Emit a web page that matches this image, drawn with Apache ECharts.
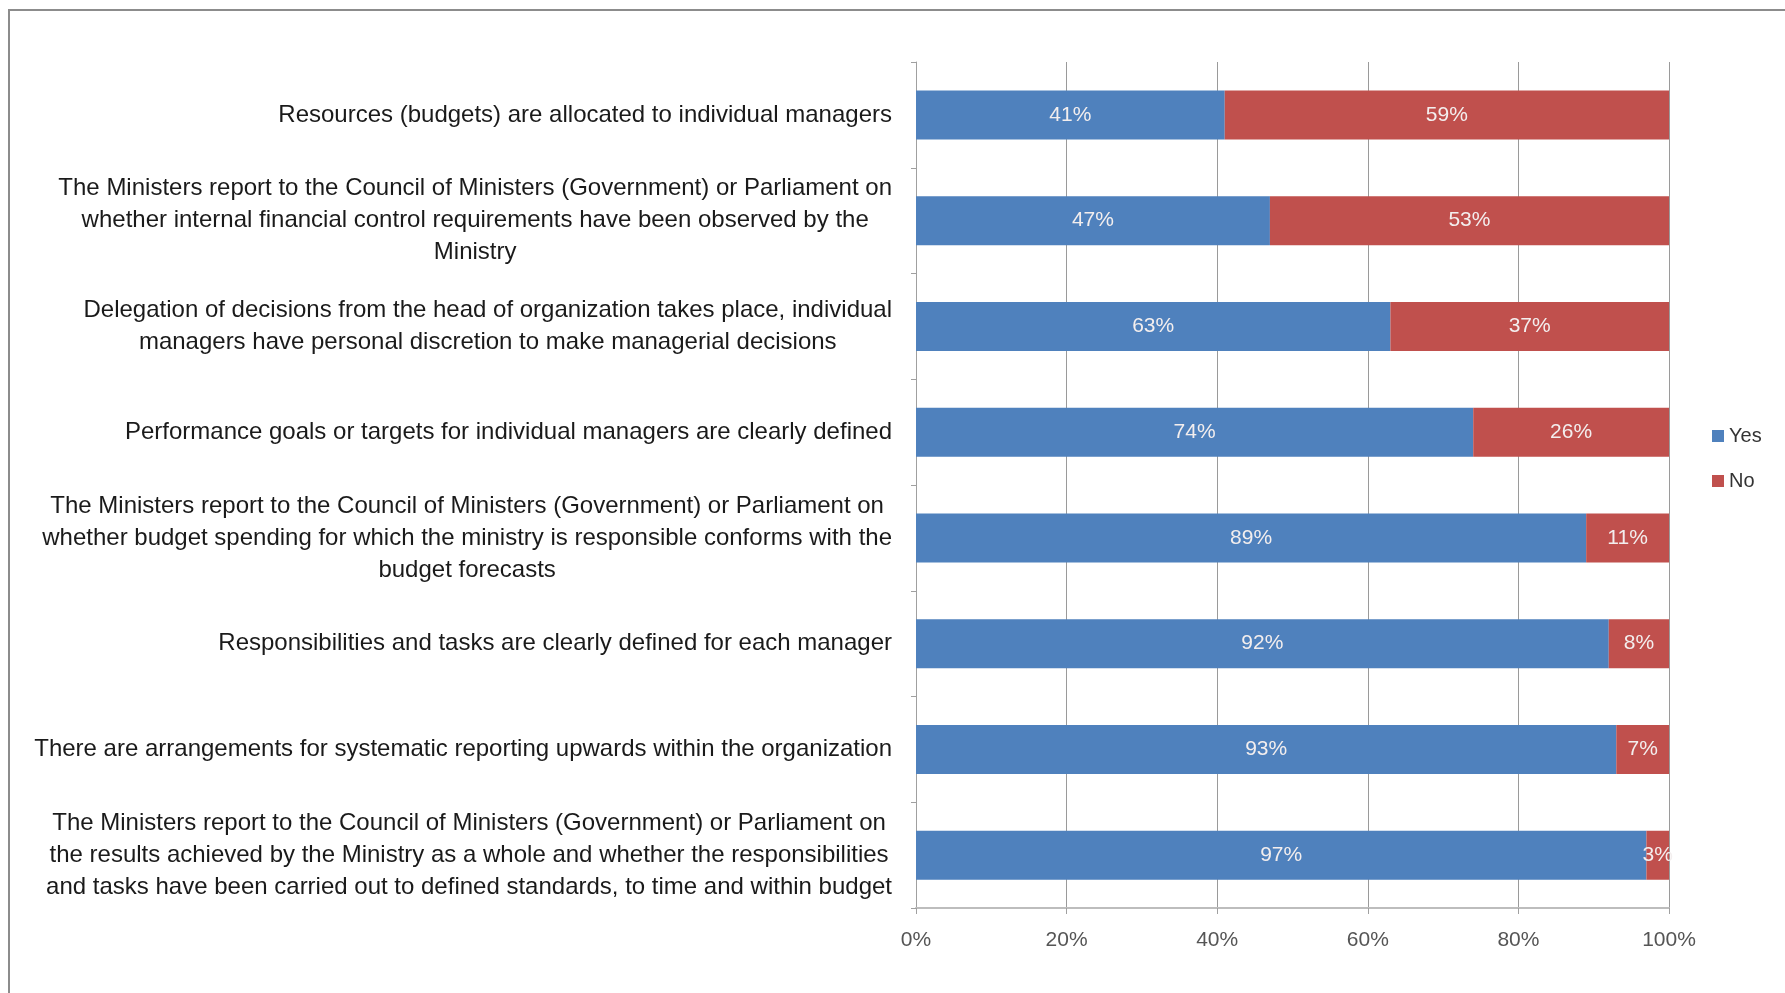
<!DOCTYPE html>
<html>
<head>
<meta charset="utf-8">
<script src="https://cdn.jsdelivr.net/npm/echarts@6/dist/echarts.min.js"></script>
<style>
    html, body { margin: 0; padding: 0; background: #fff; }
    #main { width: 1785px; height: 993px; }
</style>
</head>
<body>
<div id="main"></div>
<script>
// 类目（从上到下）
var categories = [
    'Resources (budgets) are allocated to individual managers',
    'The Ministers report to the Council of Ministers (Government) or Parliament on\nwhether internal financial control requirements have been observed by the\nMinistry',
    'Delegation of decisions from the head of organization takes place, individual\nmanagers have personal discretion to make managerial decisions',
    'Performance goals or targets for individual managers are clearly defined',
    'The Ministers report to the Council of Ministers (Government) or Parliament on\nwhether budget spending for which the ministry is responsible conforms with the\nbudget forecasts',
    'Responsibilities and tasks are clearly defined for each manager',
    'There are arrangements for systematic reporting upwards within the organization',
    'The Ministers report to the Council of Ministers (Government) or Parliament on\nthe results achieved by the Ministry as a whole and whether the responsibilities\nand tasks have been carried out to defined standards, to time and within budget'
];
var yesValues = [41, 47, 63, 74, 89, 92, 93, 97];
var noValues = [59, 53, 37, 26, 11, 8, 7, 3];
var seriesNames = ['Yes', 'No'];

var FONT = 'Liberation Sans';

var myChart = echarts.init(document.getElementById('main'));

// 每行居中对齐，整体右对齐
function wrapLabel(value) {
    return value.split('\n').map(function (line) {
        return '{c|' + line + '}';
    }).join('\n');
}

function barSeries(name, data, color) {
    return {
        name: name,
        type: 'bar',
        stack: 'total',
        barWidth: 49,
        itemStyle: { color: color },
        label: {
            show: true,
            position: 'inside',
            color: '#f3eeee',
            fontFamily: FONT,
            fontSize: 21,
            formatter: '{c}%'
        },
        data: data
    };
}

var option = {
    backgroundColor: '#fff',
    animation: false,
    graphic: [{
        type: 'rect',
        shape: { x: 9, y: 10, width: 1800, height: 1000 },
        style: { fill: 'none', stroke: '#8c8c8c', lineWidth: 2 },
        silent: true
    }],
    legend: {
        orient: 'vertical',
        left: 1707,
        top: 421,
        itemWidth: 12,
        itemHeight: 12,
        itemGap: 25,
        icon: 'rect',
        textStyle: { fontFamily: FONT, fontSize: 20, color: '#333' },
        data: seriesNames
    },
    grid: {
        left: 916,
        right: 116,
        top: 62,
        bottom: 85
    },
    xAxis: {
        type: 'value',
        min: 0,
        max: 100,
        interval: 20,
        axisLine: { show: true, lineStyle: { color: '#bdbdbd', width: 2 } },
        axisTick: { show: true, length: 6, lineStyle: { color: '#a0a0a0' } },
        splitLine: { show: true, lineStyle: { color: '#9a9a9a', width: 1 } },
        axisLabel: {
            fontFamily: FONT,
            fontSize: 21,
            color: '#555',
            margin: 22,
            formatter: '{value}%'
        }
    },
    yAxis: {
        type: 'category',
        inverse: true,
        data: categories,
        axisLine: { show: true, lineStyle: { color: '#a0a0a0', width: 1 } },
        axisTick: { show: true, length: 5, lineStyle: { color: '#a0a0a0' } },
        axisLabel: {
            margin: 24,
            fontFamily: FONT,
            fontSize: 24,
            color: '#1a1a1a',
            lineHeight: 32,
            formatter: wrapLabel,
            rich: {
                c: { align: 'center', fontFamily: FONT, fontSize: 24, color: '#1a1a1a', lineHeight: 32 }
            }
        }
    },
    series: [
        barSeries(seriesNames[0], yesValues, '#4f81bd'),
        barSeries(seriesNames[1], noValues, '#c0504d')
    ]
};

myChart.setOption(option);
</script>
</body>
</html>
